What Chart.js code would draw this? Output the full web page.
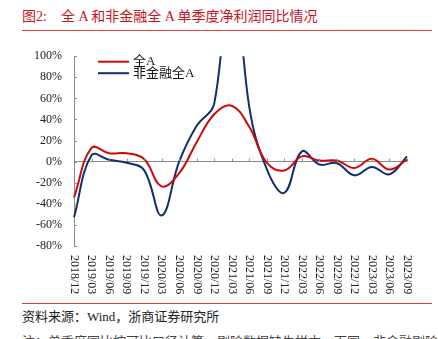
<!DOCTYPE html>
<html lang="zh-CN">
<head>
<meta charset="utf-8">
<title>全A和非金融全A单季度净利润同比情况</title>
<script src="https://cdn.jsdelivr.net/npm/chart.js@4.4.0/dist/chart.umd.min.js"></script>
<style>
  html, body { margin: 0; padding: 0; background: #fff; }
  body { position: relative; width: 438px; height: 339px; overflow: hidden; font-family: 'Liberation Serif', 'Noto Sans CJK SC', serif; }
  .title { position: absolute; left: 22px; top: 8px; height: 17px; line-height: 17px; font-size: 14px; color: #c8141e; white-space: pre; }
  .rule { position: absolute; left: 22px; width: 410px; height: 1px; background: #d9403f; }
  .source { position: absolute; left: 22px; top: 309px; line-height: 16px; font-size: 13px; color: #222; white-space: pre; }
  .note { position: absolute; left: 22px; top: 334px; line-height: 16px; font-size: 13px; color: #444; white-space: pre; }
  #wrap { position: absolute; left: 0; top: 37px; width: 438px; height: 263px; }
</style>
</head>
<body>
<div class="title">图2:    全 A 和非金融全 A 单季度净利润同比情况</div>
<div class="rule" style="top:30px"></div>
<div id="wrap"><canvas id="chart"></canvas></div>
<div class="rule" style="top:303px"></div>
<div class="source">资料来源：Wind，浙商证券研究所</div>
<div class="note">注：单季度同比按可比口径计算，剔除数据缺失样本，下同，非金融剔除金融板块</div>
<script>
'use strict';

// 季度标签
var quarters = ['2018/12', '2019/03', '2019/06', '2019/09', '2019/12', '2020/03', '2020/06',
  '2020/09', '2020/12', '2021/03', '2021/06', '2021/09', '2021/12', '2022/03', '2022/06',
  '2022/09', '2022/12', '2023/03', '2023/06', '2023/09'];

// 全A 单季度净利润同比 (%)
var allA = [-34, 13, 8, 8, 2.5, -23.5, -11, 18.5, 45, 53, 33, -1, -8.4, 5, 1, 1, -6, 2.7, -7.5, 2];

// 非金融全A 单季度净利润同比 (%)
var nonFinA = [-52.7, 6, 1.7, -1, -8, -51, 0, 34, 55, 200, 52, -7, -29.6, 9.7, -2.7, -1.5, -13, -5, -12, 5];

var yTicks = { min: -80, max: 100, step: 20 };

var FONT = "'Liberation Serif', 'Noto Sans CJK SC', serif";
var RED = '#cc0a0a';
var BLUE = '#112f6c';
var AXIS = '#8c8c8c';

/** 轴上的内向刻度、竖排日期、图例 */
var decorPlugin = {
  id: 'decor',
  afterDraw: function (chart) {
    var ctx = chart.ctx;
    var xs = chart.scales.x;
    var ys = chart.scales.y;
    var area = chart.chartArea;
    var zeroY = ys.getPixelForValue(0);

    ctx.save();
    ctx.strokeStyle = AXIS;
    ctx.lineWidth = 1;
    ctx.beginPath();
    ys.ticks.forEach(function (t) {
      var y = Math.round(ys.getPixelForValue(t.value)) + 0.5;
      ctx.moveTo(area.left, y);
      ctx.lineTo(area.left + 3, y);
    });
    quarters.forEach(function (q, i) {
      var x = Math.round(xs.getPixelForValue(i)) + 0.5;
      ctx.moveTo(x, zeroY);
      ctx.lineTo(x, zeroY - 3);
    });
    ctx.stroke();

    // 竖排横轴标签（自上而下）
    ctx.fillStyle = '#222';
    ctx.font = '12px ' + FONT;
    ctx.textAlign = 'left';
    ctx.textBaseline = 'middle';
    quarters.forEach(function (q, i) {
      ctx.save();
      ctx.translate(xs.getPixelForValue(i), area.bottom + 9);
      ctx.rotate(Math.PI / 2);
      ctx.fillText(q, 0, 0);
      ctx.restore();
    });

    // 图例
    ctx.font = '13px ' + FONT;
    chart.data.datasets.forEach(function (ds, i) {
      var y = area.top + 5.5 + i * 11.5;
      ctx.strokeStyle = ds.borderColor;
      ctx.lineWidth = 2;
      ctx.beginPath();
      ctx.moveTo(area.left + 24, y);
      ctx.lineTo(area.left + 55, y);
      ctx.stroke();
      ctx.fillStyle = '#111';
      ctx.fillText(ds.label, area.left + 59, y);
    });
    ctx.restore();
  }
};

new Chart(document.getElementById('chart'), {
  type: 'line',
  data: {
    labels: quarters,
    datasets: [
      { label: '全A', data: allA, borderColor: RED, borderWidth: 2, tension: 0.4, pointRadius: 0, fill: false },
      { label: '非金融全A', data: nonFinA, borderColor: BLUE, borderWidth: 2, tension: 0.4, pointRadius: 0, fill: false }
    ]
  },
  options: {
    responsive: true,
    maintainAspectRatio: false,
    animation: false,
    layout: { padding: { top: 11, right: 31, bottom: 46, left: 0 } },
    plugins: { legend: { display: false }, tooltip: { enabled: false } },
    scales: {
      x: {
        offset: false,
        grid: { display: false },
        border: { display: false },
        ticks: { display: false }
      },
      y: {
        min: yTicks.min,
        max: yTicks.max,
        afterFit: function (scale) { scale.width = 74; },
        ticks: {
          stepSize: yTicks.step,
          padding: 12,
          color: '#222',
          font: { family: FONT, size: 12 },
          callback: function (v) { return v + '%'; }
        },
        grid: {
          drawTicks: false,
          color: function (c) { return c.tick && c.tick.value === 0 ? AXIS : 'rgba(0,0,0,0)'; }
        },
        border: { display: true, color: AXIS, width: 1 }
      }
    }
  },
  plugins: [decorPlugin]
});
</script>
</body>
</html>
